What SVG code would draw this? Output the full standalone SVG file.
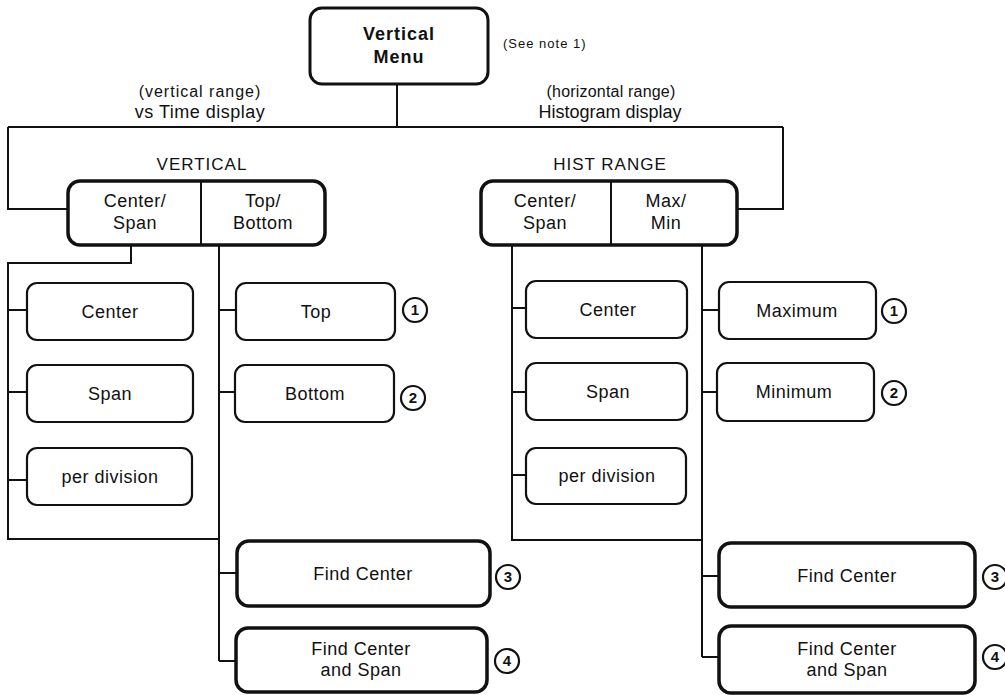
<svg xmlns="http://www.w3.org/2000/svg" width="1005" height="695" viewBox="0 0 1005 695">
<style>
text{font-family:"Liberation Sans",Arial,Helvetica,sans-serif;fill:#111;text-anchor:middle}
.lbl{font-size:18px;letter-spacing:0.5px}
.menu{font-size:18px;font-weight:bold;letter-spacing:1px}
.hdr{font-size:17px;letter-spacing:1px}
.note{font-size:13px;letter-spacing:1px;text-anchor:start}
.num{font-size:15px;font-weight:bold}
.box{fill:#fff;stroke:#111;stroke-width:2.2}
.big{fill:#fff;stroke:#111;stroke-width:3.5}
.mbox{fill:#fff;stroke:#111;stroke-width:3}
.circ{fill:#fff;stroke:#111;stroke-width:2.2}
.con{fill:none;stroke:#111;stroke-width:2}
</style>

<g id="connectors">
<path class="con" d="M397,84 V127 M8,127 H783 M8,127 V209 H68 M783,127 V209 H737"/>
<path class="con" d="M131,245 V263 H8 V539 H219 M8,310 H27 M8,392 H27 M8,480 H27"/>
<path class="con" d="M219,245 V661 M219,310 H236 M219,392 H235 M219,573 H237 M219,661 H236"/>
<path class="con" d="M512,245 V540 H702 M512,308 H526 M512,392 H526 M512,475 H526"/>
<path class="con" d="M702,245 V657 M702,310 H719 M702,392 H717 M702,576 H719 M702,657 H719"/>
</g>

<g id="vertical-menu">
<rect class="mbox" x="310" y="8" width="178" height="76" rx="12"/>
<text class="menu" x="399" y="40">Vertical</text>
<text class="menu" x="399" y="63">Menu</text>
</g>
<text class="note" x="503" y="48">(See note 1)</text>

<g id="label-vs-time">
<text style="font-size:16px;letter-spacing:1px" x="200" y="97">(vertical range)</text>
<text style="font-size:18px;letter-spacing:0.5px" x="200" y="118">vs Time display</text>
</g>
<g id="label-histogram">
<text style="font-size:16px;letter-spacing:0.2px" x="611" y="97">(horizontal range)</text>
<text style="font-size:18px" x="610" y="118">Histogram display</text>
</g>

<g id="vertical">
<text class="hdr" x="202" y="170">VERTICAL</text>
<rect class="big" x="68" y="181" width="257" height="64" rx="12"/>
<line class="con" x1="201" y1="181" x2="201" y2="245"/>
<text class="lbl" x="135" y="207">Center/</text>
<text class="lbl" x="135" y="229">Span</text>
<text class="lbl" x="263" y="207">Top/</text>
<text class="lbl" x="263" y="229">Bottom</text>
</g>

<g id="hist-range">
<text class="hdr" x="610" y="170">HIST RANGE</text>
<rect class="big" x="481" y="181" width="256" height="64" rx="12"/>
<line class="con" x1="611" y1="181" x2="611" y2="245"/>
<text class="lbl" x="545" y="207">Center/</text>
<text class="lbl" x="545" y="229">Span</text>
<text class="lbl" x="666" y="207">Max/</text>
<text class="lbl" x="666" y="229">Min</text>
</g>

<g id="v-center">
<rect class="box" x="27" y="283" width="166" height="57" rx="10"/>
<text class="lbl" x="110" y="318">Center</text>
</g>
<g id="v-span">
<rect class="box" x="27" y="365" width="166" height="57" rx="10"/>
<text class="lbl" x="110" y="400">Span</text>
</g>
<g id="v-perdiv">
<rect class="box" x="27" y="448" width="165" height="57" rx="10"/>
<text class="lbl" x="110" y="483">per division</text>
</g>

<g id="v-top">
<rect class="box" x="236" y="283" width="159" height="57" rx="10"/>
<text class="lbl" x="316" y="318">Top</text>
<circle class="circ" cx="415" cy="310" r="12"/>
<text class="num" x="415" y="315">1</text>
</g>
<g id="v-bottom">
<rect class="box" x="235" y="365" width="159" height="57" rx="10"/>
<text class="lbl" x="315" y="400">Bottom</text>
<circle class="circ" cx="413" cy="398" r="12"/>
<text class="num" x="413" y="403">2</text>
</g>

<g id="v-findcenter">
<rect class="big" x="237" y="541" width="253" height="65" rx="12"/>
<text class="lbl" x="363" y="580">Find Center</text>
<circle class="circ" cx="508" cy="577" r="12"/>
<text class="num" x="508" y="582">3</text>
</g>
<g id="v-findcenterspan">
<rect class="big" x="236" y="628" width="251" height="64" rx="12"/>
<text class="lbl" x="361" y="655">Find Center</text>
<text class="lbl" x="361" y="676">and Span</text>
<circle class="circ" cx="507" cy="661" r="12"/>
<text class="num" x="507" y="666">4</text>
</g>

<g id="h-center">
<rect class="box" x="526" y="281" width="161" height="57" rx="10"/>
<text class="lbl" x="608" y="316">Center</text>
</g>
<g id="h-span">
<rect class="box" x="526" y="363" width="161" height="57" rx="10"/>
<text class="lbl" x="608" y="398">Span</text>
</g>
<g id="h-perdiv">
<rect class="box" x="526" y="448" width="160" height="56" rx="10"/>
<text class="lbl" x="607" y="482">per division</text>
</g>

<g id="h-maximum">
<rect class="box" x="719" y="282" width="157" height="57" rx="10"/>
<text class="lbl" x="797" y="317">Maximum</text>
<circle class="circ" cx="894" cy="311" r="12"/>
<text class="num" x="894" y="316">1</text>
</g>
<g id="h-minimum">
<rect class="box" x="717" y="363" width="157" height="58" rx="10"/>
<text class="lbl" x="794" y="398">Minimum</text>
<circle class="circ" cx="894" cy="393" r="12"/>
<text class="num" x="894" y="398">2</text>
</g>

<g id="h-findcenter">
<rect class="big" x="719" y="543" width="256" height="64" rx="12"/>
<text class="lbl" x="847" y="582">Find Center</text>
<circle class="circ" cx="995" cy="577" r="12"/>
<text class="num" x="995" y="582">3</text>
</g>
<g id="h-findcenterspan">
<rect class="big" x="719" y="626" width="256" height="67" rx="12"/>
<text class="lbl" x="847" y="655">Find Center</text>
<text class="lbl" x="847" y="676">and Span</text>
<circle class="circ" cx="995" cy="657" r="12"/>
<text class="num" x="995" y="662">4</text>
</g>
</svg>
